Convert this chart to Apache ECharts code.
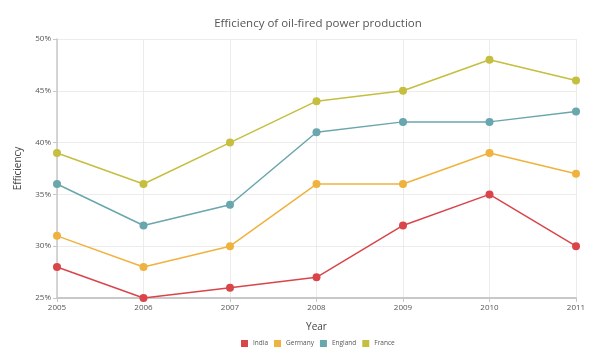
<!DOCTYPE html>
<html><head><meta charset="utf-8">
<script src="https://cdn.jsdelivr.net/npm/echarts@6/dist/echarts.min.js"></script>
<style>html,body{margin:0;padding:0;background:#fff}#c{width:602px;height:355px}</style>
</head><body><div id="c"></div>
<script>
const years = ['2005','2006','2007','2008','2009','2010','2011'];
const india = [28, 25, 26, 27, 32, 35, 30];
const germany = [31, 28, 30, 36, 36, 39, 37];
const england = [36, 32, 34, 41, 42, 42, 43];
const france = [39, 36, 40, 44, 45, 48, 46];
const names = ['India','Germany','England','France'];
const colors = ['#d9454a','#f0b23e','#6aa6ad','#c5be3f'];
const data = [india, germany, england, france];
const font = '"Open Sans", sans-serif';
const chart = echarts.init(document.getElementById('c'), null, {renderer:'canvas'});
chart.setOption({
  animation:false,
  textStyle:{fontFamily:font},
  color: colors,
  title:{text:'Efficiency of oil-fired power production', left:313, textAlign:'center', top:13,
    textStyle:{fontFamily:font, fontSize:11.5, fontWeight:'normal', color:'#555'}},
  legend:{bottom:3, left:236, itemWidth:7, itemHeight:7, itemGap:6, icon:'rect',
    textStyle:{fontFamily:font, fontSize:6.5, color:'#555'}, data:names},
  grid:{left:57, right:26, top:39, bottom:57},
  xAxis:{type:'category', data:years, boundaryGap:false,
    name:'Year', nameLocation:'middle', nameGap:24,
    nameTextStyle:{fontFamily:font, fontSize:10, color:'#444'},
    axisLine:{lineStyle:{color:'#c8c8c8', width:2}},
    axisTick:{show:true, length:4, lineStyle:{color:'#c8c8c8'}},
    axisLabel:{fontSize:8, color:'#555', margin:6, fontFamily:font},
    splitLine:{show:true, lineStyle:{color:'#ececec'}}},
  yAxis:{type:'value', min:25, max:50, interval:5,
    name:'Efficiency', nameLocation:'middle', nameGap:34, nameRotate:90,
    nameTextStyle:{fontFamily:font, fontSize:10, color:'#444'},
    axisLine:{show:true, lineStyle:{color:'#c8c8c8', width:1.5}},
    axisTick:{show:true, length:4, lineStyle:{color:'#c8c8c8'}},
    axisLabel:{fontSize:8, color:'#555', margin:6, formatter:'{value}%', fontFamily:font},
    splitLine:{show:true, lineStyle:{color:'#ececec'}}},
  series: names.map((n,i)=>({name:n, type:'line', data:data[i], symbol:'circle', symbolSize:8,
    lineStyle:{width:1.5}, itemStyle:{color:colors[i]}}))
});
</script></body></html>
